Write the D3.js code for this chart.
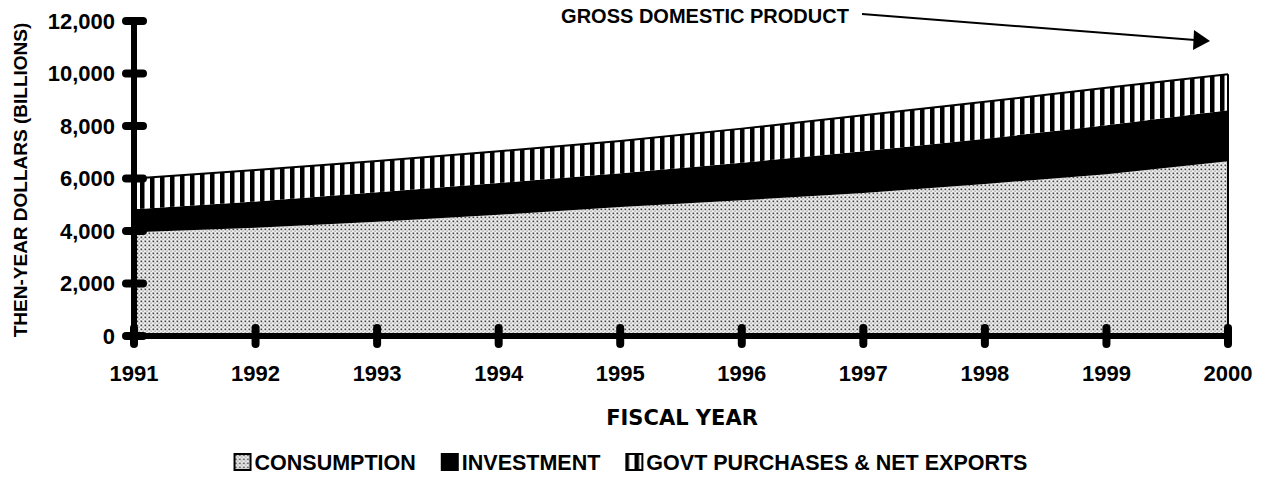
<!DOCTYPE html>
<html>
<head>
<meta charset="utf-8">
<script src="https://cdn.jsdelivr.net/npm/d3@7"></script>
<style>
  body { margin: 0; background: #fff; }
  svg text { font-family: "Liberation Sans", Arial, sans-serif; fill: #000; }
</style>
</head>
<body>
<div id="chart"></div>
<script>
// GDP components, then-year dollars (billions)
const years = [1991, 1992, 1993, 1994, 1995, 1996, 1997, 1998, 1999, 2000];
const consumption = [3950, 4120, 4350, 4620, 4910, 5170, 5450, 5790, 6160, 6660];
const investment = [880, 1000, 1130, 1210, 1290, 1430, 1590, 1720, 1870, 1940];
const govtNetExports = [1170, 1200, 1190, 1210, 1230, 1300, 1370, 1410, 1430, 1370];
const yTicks = [0, 2000, 4000, 6000, 8000, 10000, 12000];
const seriesNames = ['CONSUMPTION', 'INVESTMENT', 'GOVT PURCHASES & NET EXPORTS'];

const width = 1263, height = 496;
const margin = { left: 134, right: 35, top: 21, bottom: 160 };

const svg = d3.select('#chart').append('svg')
  .attr('width', width)
  .attr('height', height);

// fill patterns
const defs = svg.append('defs');
const dots = defs.append('pattern')
  .attr('id', 'dots')
  .attr('patternUnits', 'userSpaceOnUse')
  .attr('width', 4).attr('height', 4);
dots.append('rect').attr('width', 4).attr('height', 4).attr('fill', '#f0f0f0');
dots.append('rect').attr('x', 0.5).attr('y', 0.5).attr('width', 1.7).attr('height', 1.7).attr('fill', '#444');
dots.append('rect').attr('x', 2.5).attr('y', 2.5).attr('width', 1.3).attr('height', 1.3).attr('fill', '#999');

const stripes = defs.append('pattern')
  .attr('id', 'stripes')
  .attr('patternUnits', 'userSpaceOnUse')
  .attr('width', 10).attr('height', 10);
stripes.append('rect').attr('width', 10).attr('height', 10).attr('fill', '#fff');
stripes.append('rect').attr('x', 0).attr('width', 4.5).attr('height', 10).attr('fill', '#000');

const x = d3.scaleLinear()
  .domain([1991, 2000])
  .range([margin.left, width - margin.right]);

const y = d3.scaleLinear()
  .domain([0, 12000])
  .range([336, margin.top]);

const table = years.map((yr, i) => ({
  year: yr,
  consumption: consumption[i],
  investment: investment[i],
  govt: govtNetExports[i]
}));

const stack = d3.stack().keys(['consumption', 'investment', 'govt']);
const layers = stack(table);
const fills = ['url(#dots)', '#000', 'url(#stripes)'];

const area = d3.area()
  .x(d => x(d.data.year))
  .y0(d => y(d[0]))
  .y1(d => y(d[1]));

svg.append('g')
  .selectAll('path')
  .data(layers)
  .enter().append('path')
  .attr('d', area)
  .attr('fill', (d, i) => fills[i]);

// outline on top of the total and right edge
const topLine = d3.line()
  .x(d => x(d.data.year))
  .y(d => y(d[1]));
svg.append('path')
  .attr('d', topLine(layers[2]))
  .attr('fill', 'none')
  .attr('stroke', '#000')
  .attr('stroke-width', 2);
svg.append('line')
  .attr('x1', x(2000)).attr('x2', x(2000))
  .attr('y1', y(0)).attr('y2', y(layers[2][years.length - 1][1]))
  .attr('stroke', '#000')
  .attr('stroke-width', 2);

// axes: thick lines with rounded tick marks
const axisG = svg.append('g')
  .attr('stroke', '#000')
  .attr('stroke-linecap', 'round');

axisG.append('line')
  .attr('x1', x(1991)).attr('x2', x(1991))
  .attr('y1', y(12000)).attr('y2', y(0) + 8)
  .attr('stroke-width', 6);
axisG.append('line')
  .attr('x1', x(1991)).attr('x2', x(2000))
  .attr('y1', y(0)).attr('y2', y(0))
  .attr('stroke-width', 6);

axisG.selectAll('.ytick')
  .data(yTicks)
  .enter().append('line')
  .attr('x1', x(1991) - 8).attr('x2', x(1991) + 9)
  .attr('y1', d => y(d)).attr('y2', d => y(d))
  .attr('stroke-width', 8);

axisG.selectAll('.xtick')
  .data(years)
  .enter().append('line')
  .attr('x1', d => x(d)).attr('x2', d => x(d))
  .attr('y1', y(0) - 8).attr('y2', y(0) + 8)
  .attr('stroke-width', 8);

svg.selectAll('.ylab')
  .data(yTicks)
  .enter().append('text')
  .attr('x', x(1991) - 19)
  .attr('y', d => y(d))
  .attr('dy', '0.36em')
  .attr('text-anchor', 'end')
  .style('font-size', '22px')
  .style('font-weight', 'bold')
  .text(d => d3.format(',')(d));

svg.selectAll('.xlab')
  .data(years)
  .enter().append('text')
  .attr('x', d => x(d))
  .attr('y', 381)
  .attr('text-anchor', 'middle')
  .style('font-size', '22px')
  .style('font-weight', 'bold')
  .text(d => d);

// axis titles
svg.append('text')
  .attr('transform', 'translate(27,180) rotate(-90)')
  .attr('text-anchor', 'middle')
  .style('font-size', '19px')
  .style('font-weight', 'bold')
  .text('THEN-YEAR DOLLARS (BILLIONS)');

svg.append('text')
  .attr('x', 682)
  .attr('y', 425)
  .attr('text-anchor', 'middle')
  .style('font-family', '"DejaVu Sans", sans-serif')
  .style('font-size', '21px')
  .style('font-weight', 'bold')
  .text('FISCAL YEAR');

// annotation
svg.append('text')
  .attr('x', 705)
  .attr('y', 23)
  .attr('text-anchor', 'middle')
  .style('font-size', '20px')
  .style('font-weight', 'bold')
  .text('GROSS DOMESTIC PRODUCT');

svg.append('line')
  .attr('x1', 862).attr('y1', 14)
  .attr('x2', 1195).attr('y2', 40)
  .attr('stroke', '#000')
  .attr('stroke-width', 2);
svg.append('path')
  .attr('d', 'M1194,30 L1210,41 L1193,50 Z')
  .attr('fill', '#000');

// legend, laid out then centred
const legend = svg.append('g');
const legendFills = ['url(#dots)', '#000', 'url(#stripes)'];
const legendGap = 26;
let lx = 0;
seriesNames.forEach((name, i) => {
  legend.append('rect')
    .attr('x', lx).attr('y', -16)
    .attr('width', 16).attr('height', 16)
    .attr('fill', legendFills[i])
    .attr('stroke', '#000')
    .attr('stroke-width', 2);
  const t = legend.append('text')
    .attr('x', lx + 20)
    .attr('y', 0)
    .style('font-size', '21.5px')
    .style('font-weight', 'bold')
    .text(name);
  lx += 20 + t.node().getComputedTextLength() + legendGap;
});
const legendWidth = lx - legendGap;
legend.attr('transform', `translate(${631 - legendWidth / 2},470)`);
</script>
</body>
</html>
